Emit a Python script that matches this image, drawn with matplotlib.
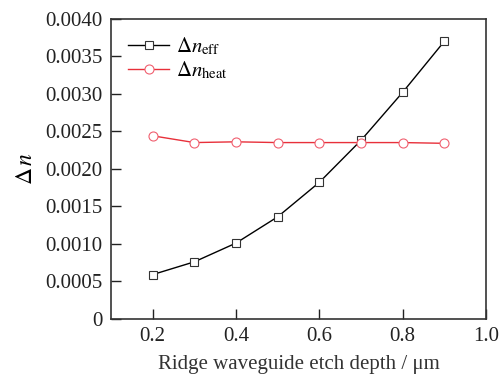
import matplotlib.pyplot as plt

plt.rcParams['font.family'] = ['Liberation Serif', 'DejaVu Serif']
plt.rcParams['mathtext.fontset'] = 'stix'

depth = [0.2, 0.3, 0.4, 0.5, 0.6, 0.7, 0.8, 0.9]
dn_eff = [0.00059, 0.00076, 0.00101, 0.00136, 0.00182, 0.00238, 0.00302, 0.00370]
dn_heat = [0.00244, 0.00235, 0.00236, 0.00235, 0.00235, 0.00235, 0.00235, 0.00234]

yticks = [0, 0.0005, 0.0010, 0.0015, 0.0020, 0.0025, 0.0030, 0.0035, 0.0040]
ylabels = ['0', '0.0005', '0.0010', '0.0015', '0.0020', '0.0025', '0.0030', '0.0035', '0.0040']
xticks = [0.2, 0.4, 0.6, 0.8, 1.0]

fig = plt.figure(figsize=(5.0, 3.76), dpi=100)
ax = fig.add_axes([0.222, 0.152, 0.75, 0.798])

ax.plot(depth, dn_eff, color='black', lw=1, marker='s', ms=6,
        mfc='white', mec='#333333', mew=0.8, label=r'$\Delta n_{\rm eff}$')
ax.plot(depth, dn_heat, color='#e8303a', lw=1, marker='o', ms=6.5,
        mfc='white', mec='#f06070', mew=0.8, label=r'$\Delta n_{\rm heat}$')

ax.set_xlim(0.1, 1.0)
ax.set_ylim(0, 0.004)
ax.set_xticks(xticks)
ax.set_xticklabels(['0.2', '0.4', '0.6', '0.8', '1.0'])
ax.set_yticks(yticks)
ax.set_yticklabels(ylabels)
ax.tick_params(direction='in', length=7, width=1, labelsize=15, colors='#222222', pad=6)
for s in ax.spines.values():
    s.set_linewidth(1.2)
    s.set_color('#333333')

ax.set_xlabel('Ridge waveguide etch depth / μm', fontsize=15, color='#333333', labelpad=6)
ax.set_ylabel(r'$\Delta\,n$', fontsize=17, labelpad=6)

ax.legend(loc='upper left', frameon=False, fontsize=15, handlelength=2.0,
          handletextpad=0.3, borderaxespad=0.4, labelspacing=0.1)

fig.savefig('out.png', dpi=100)
